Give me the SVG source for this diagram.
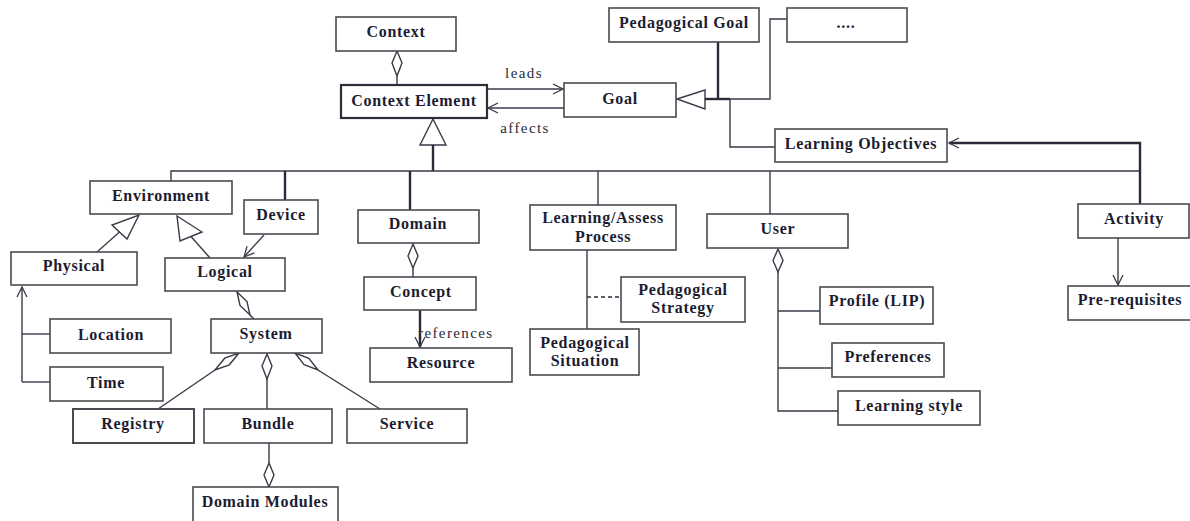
<svg xmlns="http://www.w3.org/2000/svg" width="1190" height="521" viewBox="0 0 1190 521">
  <defs>
    <style>
      .box { fill: #ffffff; stroke: #4a4a52; stroke-width: 1.6; }
      .box.strong { stroke: #2e2e3a; stroke-width: 2.2; }
      .lbl { font-family: "Liberation Serif", "Times New Roman", serif; font-weight: bold; font-size: 16px; letter-spacing: 0.7px; fill: #1c1c30; text-anchor: middle; }
      .rel { font-family: "Liberation Serif", "Times New Roman", serif; font-size: 15px; letter-spacing: 1.4px; fill: #2a2a3a; }
      .ln { fill: none; stroke: #3a3a48; stroke-width: 1.4; }
      .thick { fill: none; stroke: #2a2a3a; stroke-width: 2.4; }
      .dash { fill: none; stroke: #2a2a3a; stroke-width: 1.6; stroke-dasharray: 4 3; }
      .hollow { fill: #ffffff; stroke: #3a3a48; stroke-width: 1.4; stroke-linejoin: miter; }
    </style>
    <marker id="open" viewBox="0 0 12 12" refX="11" refY="6" markerWidth="12" markerHeight="12" markerUnits="userSpaceOnUse" orient="auto">
      <path d="M1,1 L11,6 L1,11" fill="none" stroke="#3a3a48" stroke-width="1.3"/>
    </marker>
  </defs>

  <!-- connectors -->
  <g id="connectors">
    <!-- Context aggregates Context Element -->
    <polygon class="hollow" points="397,51 402,63 397,76 392,63"/>
    <line class="ln" x1="397" y1="76" x2="397" y2="85"/>

    <!-- leads / affects -->
    <line class="ln" x1="487" y1="89" x2="563" y2="89" marker-end="url(#open)"/>
    <line class="ln" x1="564" y1="108" x2="488" y2="108" marker-end="url(#open)"/>

    <!-- generalisation into Context Element -->
    <polygon class="hollow" points="433,119 446,145 420,145"/>
    <line class="thick" x1="433" y1="145" x2="433" y2="171"/>

    <!-- bus of subclasses -->
    <polyline class="ln" points="171,181 171,171 1140,171"/>
    <line class="thick" x1="285" y1="171" x2="285" y2="200"/>
    <line class="thick" x1="410" y1="171" x2="410" y2="210"/>
    <line class="ln" x1="598" y1="171" x2="598" y2="205"/>
    <line class="ln" x1="770" y1="171" x2="770" y2="214"/>

    <!-- Activity to Learning Objectives -->
    <polyline class="thick" points="1140,204 1140,143 949,143" marker-end="url(#open)"/>

    <!-- Goal generalisation -->
    <polygon class="hollow" points="677,99 705,90 705,109"/>
    <line class="thick" x1="705" y1="99" x2="730" y2="99"/>
    <line class="thick" x1="718" y1="42" x2="718" y2="99"/>
    <polyline class="ln" points="730,99 770,99 770,19 787,19"/>
    <polyline class="ln" points="730,99 730,147 775,147"/>

    <!-- Environment generalisations -->
    <polygon class="hollow" points="139,215 127,239 112,225"/>
    <line class="ln" x1="119.5" y1="232" x2="97" y2="252"/>
    <polygon class="hollow" points="177,216 202,232 180,241"/>
    <line class="ln" x1="191" y1="236.5" x2="210" y2="258"/>

    <!-- Device to Logical -->
    <line class="ln" x1="264" y1="235" x2="244" y2="257" marker-end="url(#open)"/>

    <!-- Physical: Location and Time -->
    <line class="ln" x1="22" y1="382" x2="22" y2="287" marker-end="url(#open)"/>
    <line class="ln" x1="22" y1="334" x2="50" y2="334"/>
    <line class="ln" x1="22" y1="382" x2="50" y2="382"/>

    <!-- Logical aggregates System -->
    <polygon class="hollow" points="237,292 247,301.5 250,315 240,305.5"/>
    <line class="ln" x1="250" y1="315" x2="254" y2="319"/>

    <!-- System aggregates Registry, Bundle, Service -->
    <polygon class="hollow" points="239,353 229.3,364.8 215,370 224.7,358.2"/>
    <line class="ln" x1="215" y1="370" x2="158" y2="409"/>
    <polygon class="hollow" points="267,354 272,366 267,379 262,366"/>
    <line class="ln" x1="267" y1="379" x2="267" y2="409"/>
    <polygon class="hollow" points="295,353 304.1,364.7 318,370 308.9,358.3"/>
    <line class="ln" x1="318" y1="370" x2="380" y2="409"/>

    <!-- Bundle and Domain Modules -->
    <line class="ln" x1="269" y1="443" x2="269" y2="463"/>
    <polygon class="hollow" points="269,463 274,475 269,487 264,475"/>

    <!-- Domain aggregates Concept -->
    <polygon class="hollow" points="413,244 418,256 413,268 408,256"/>
    <line class="ln" x1="413" y1="268" x2="413" y2="277"/>

    <!-- Concept references Resource -->
    <line class="thick" x1="420" y1="310" x2="420" y2="347" marker-end="url(#open)"/>

    <!-- Learning/Assess Process -->
    <line class="ln" x1="587" y1="250" x2="587" y2="329"/>
    <line class="dash" x1="587" y1="297" x2="621" y2="297"/>

    <!-- User aggregates profile parts -->
    <polygon class="hollow" points="778,249 783,260.5 778,272 773,260.5"/>
    <polyline class="ln" points="778,272 778,411 838,411"/>
    <line class="ln" x1="778" y1="311" x2="820" y2="311"/>
    <line class="ln" x1="778" y1="368" x2="832" y2="368"/>

    <!-- Activity to Pre-requisites -->
    <line class="ln" x1="1118" y1="238" x2="1118" y2="285" marker-end="url(#open)"/>
  </g>

  <!-- connector labels -->
  <g id="connector-labels">
    <text class="rel" x="524" y="78" text-anchor="middle">leads</text>
    <text class="rel" x="525" y="133" text-anchor="middle">affects</text>
    <text class="rel" x="418" y="338">references</text>
  </g>

  <!-- nodes -->
  <g id="context"><rect class="box" x="336" y="17" width="120" height="34"/><text class="lbl" x="396" y="37">Context</text></g>
  <g id="context-element"><rect class="box strong" x="341" y="85" width="146" height="33"/><text class="lbl" x="414" y="106">Context Element</text></g>
  <g id="goal"><rect class="box" x="564" y="83" width="112" height="34"/><text class="lbl" x="620" y="104">Goal</text></g>
  <g id="pedagogical-goal"><rect class="box" x="609" y="8" width="150" height="34"/><text class="lbl" x="684" y="28">Pedagogical Goal</text></g>
  <g id="other-goal"><rect class="box" x="787" y="8" width="120" height="34"/><text class="lbl" x="846" y="28">....</text></g>
  <g id="learning-objectives"><rect class="box" x="775" y="129" width="172" height="33"/><text class="lbl" x="861" y="149">Learning Objectives</text></g>
  <g id="environment"><rect class="box" x="90" y="181" width="142" height="33"/><text class="lbl" x="161" y="201">Environment</text></g>
  <g id="device"><rect class="box" x="244" y="200" width="74" height="34"/><text class="lbl" x="281" y="220">Device</text></g>
  <g id="domain"><rect class="box" x="358" y="210" width="121" height="33"/><text class="lbl" x="418" y="229">Domain</text></g>
  <g id="learning-process"><rect class="box" x="530" y="205" width="146" height="45"/><text class="lbl" x="603" y="223">Learning/Assess</text><text class="lbl" x="603" y="242">Process</text></g>
  <g id="user"><rect class="box" x="707" y="214" width="141" height="34"/><text class="lbl" x="778" y="234">User</text></g>
  <g id="activity"><rect class="box" x="1078" y="204" width="111" height="34"/><text class="lbl" x="1134" y="224">Activity</text></g>
  <g id="physical"><rect class="box" x="11" y="252" width="126" height="33"/><text class="lbl" x="74" y="271">Physical</text></g>
  <g id="logical"><rect class="box" x="165" y="258" width="120" height="33"/><text class="lbl" x="225" y="277">Logical</text></g>
  <g id="location"><rect class="box" x="50" y="319" width="121" height="34"/><text class="lbl" x="111" y="340">Location</text></g>
  <g id="time"><rect class="box" x="50" y="367" width="113" height="34"/><text class="lbl" x="106" y="388">Time</text></g>
  <g id="system"><rect class="box" x="211" y="319" width="111" height="34"/><text class="lbl" x="266" y="339">System</text></g>
  <g id="concept"><rect class="box" x="364" y="277" width="112" height="33"/><text class="lbl" x="421" y="297">Concept</text></g>
  <g id="resource"><rect class="box" x="370" y="348" width="142" height="34"/><text class="lbl" x="441" y="368">Resource</text></g>
  <g id="pedagogical-strategy"><rect class="box" x="621" y="277" width="124" height="45"/><text class="lbl" x="683" y="295">Pedagogical</text><text class="lbl" x="683" y="313">Strategy</text></g>
  <g id="pedagogical-situation"><rect class="box" x="530" y="329" width="109" height="46"/><text class="lbl" x="585" y="348">Pedagogical</text><text class="lbl" x="585" y="366">Situation</text></g>
  <g id="profile"><rect class="box" x="820" y="287" width="113" height="37"/><text class="lbl" x="877" y="306">Profile (LIP)</text></g>
  <g id="preferences"><rect class="box" x="832" y="343" width="112" height="34"/><text class="lbl" x="888" y="362">Preferences</text></g>
  <g id="learning-style"><rect class="box" x="838" y="391" width="142" height="34"/><text class="lbl" x="909" y="411">Learning style</text></g>
  <g id="prerequisites"><rect class="box" x="1068" y="286" width="126" height="34"/><text class="lbl" x="1130" y="305">Pre-requisites</text></g>
  <g id="registry"><rect class="box" x="73" y="409" width="121" height="34" style="stroke-width:2"/><text class="lbl" x="133" y="429">Registry</text></g>
  <g id="bundle"><rect class="box" x="204" y="409" width="128" height="34"/><text class="lbl" x="268" y="429">Bundle</text></g>
  <g id="service"><rect class="box" x="347" y="409" width="120" height="34"/><text class="lbl" x="407" y="429">Service</text></g>
  <g id="domain-modules"><rect class="box" x="193" y="487" width="145" height="40"/><text class="lbl" x="265" y="507">Domain Modules</text></g>
</svg>
